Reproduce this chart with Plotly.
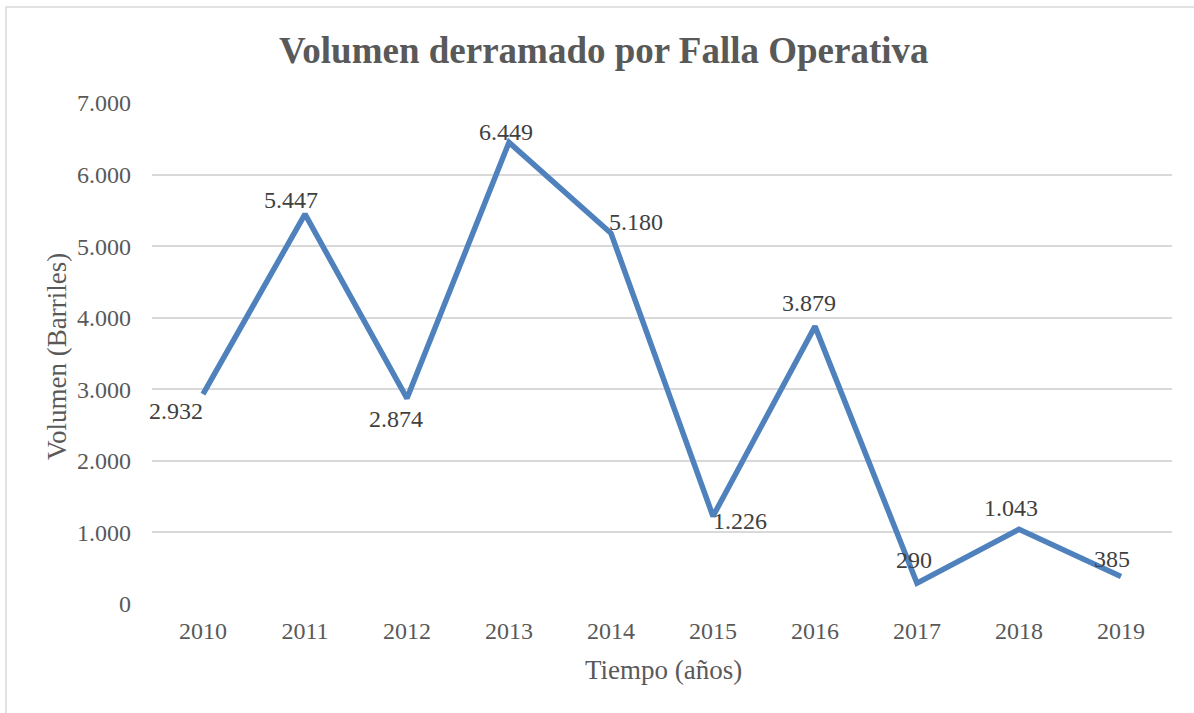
import plotly.graph_objects as go

years = ["2010", "2011", "2012", "2013", "2014", "2015", "2016", "2017", "2018", "2019"]
volumen = [2932, 5447, 2874, 6449, 5180, 1226, 3879, 290, 1043, 385]
etiquetas = ["2.932", "5.447", "2.874", "6.449", "5.180", "1.226", "3.879", "290", "1.043", "385"]
y_ticks = [0, 1000, 2000, 3000, 4000, 5000, 6000, 7000]
y_tick_text = ["0", "1.000", "2.000", "3.000", "4.000", "5.000", "6.000", "7.000"]

# label offsets (px) to mimic Excel's auto placement
label_dx = [-27, -14, -11, -3, 25, 27, -6, -3, -8, -9]
label_dy = [-17, 14, -21, 10, 11, -5, 23, 23, 21, 17]

W, H = 1194, 713
L, R, T, B = 152, 22, 103, 109
pw, ph = W - L - R, H - T - B

def px_x(p):
    return (p - L) / pw

def px_y(p):
    return (H - B - p) / ph

FONT = "Liberation Serif, Times New Roman, serif"

fig = go.Figure()
fig.add_trace(go.Scatter(
    x=years, y=volumen, mode="lines",
    line=dict(color="#4F81BD", width=5.5),
    hoverinfo="x+y", showlegend=False,
))

annotations = []
for i, (v, t, dx, dy) in enumerate(zip(volumen, etiquetas, label_dx, label_dy)):
    annotations.append(dict(
        x=i, y=v, text=t, showarrow=False, xshift=dx, yshift=dy,
        font=dict(family=FONT, size=24, color="#404040"),
        xanchor="center", yanchor="middle",
    ))

annotations.append(dict(
    xref="paper", yref="paper", x=px_x(604), y=px_y(50),
    text="<b>Volumen derramado por Falla Operativa</b>", showarrow=False,
    font=dict(family=FONT, size=37, color="#595959"),
    xanchor="center", yanchor="middle",
))
annotations.append(dict(
    xref="paper", yref="paper", x=px_x(663), y=px_y(670),
    text="Tiempo (años)", showarrow=False,
    font=dict(family=FONT, size=27, color="#595959"),
    xanchor="center", yanchor="middle",
))
annotations.append(dict(
    xref="paper", yref="paper", x=px_x(57), y=px_y(357),
    text="Volumen (Barriles)", showarrow=False, textangle=-90,
    font=dict(family=FONT, size=27, color="#595959"),
    xanchor="center", yanchor="middle",
))

fig.update_layout(
    width=W, height=H,
    margin=dict(l=L, r=R, t=T, b=B),
    paper_bgcolor="white", plot_bgcolor="white",
    annotations=annotations,
    shapes=[dict(
        type="rect", xref="paper", yref="paper",
        x0=px_x(6), x1=px_x(W + 20), y0=px_y(H + 20), y1=px_y(7),
        line=dict(color="#D9D9D9", width=1.5), fillcolor="rgba(0,0,0,0)",
        layer="below",
    )],
)
fig.update_xaxes(
    type="category", range=[-0.5, len(years) - 0.5],
    showgrid=False, zeroline=False, showline=False,
    tickfont=dict(family=FONT, size=24, color="#595959"),
    ticks="", ticklabelstandoff=10,
)
fig.update_yaxes(
    range=[0, 7000], tickvals=y_ticks, ticktext=y_tick_text,
    showgrid=True, gridcolor="#D9D9D9", gridwidth=1.5,
    zeroline=False, showline=False,
    tickfont=dict(family=FONT, size=24, color="#595959"),
    ticks="", ticklabelstandoff=20,
)

fig.write_html(
    "out.html",
    config={"displayModeBar": False},
    post_script="document.body.style.margin='0';document.body.style.overflow='hidden';",
)
